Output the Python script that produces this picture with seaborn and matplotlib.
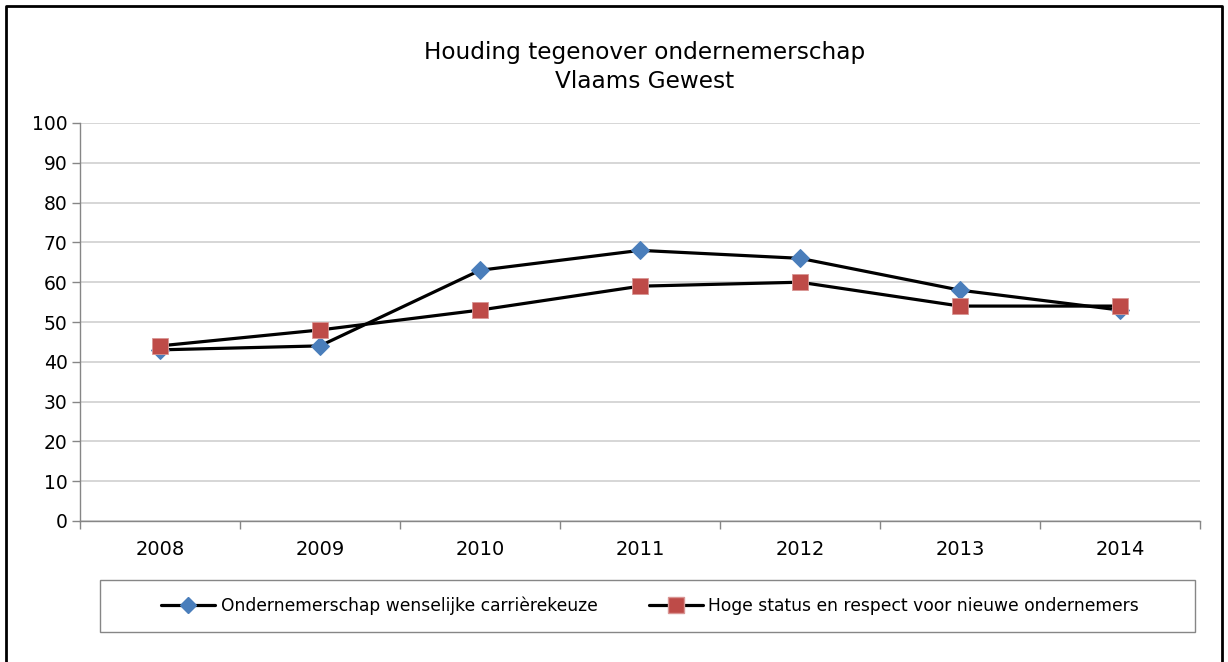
import pandas as pd
import matplotlib.pyplot as plt
import seaborn as sns
from matplotlib.lines import Line2D
from matplotlib.patches import Rectangle

years = [2008, 2009, 2010, 2011, 2012, 2013, 2014]
carriere = [43, 44, 63, 68, 66, 58, 53]
status = [44, 48, 53, 59, 60, 54, 54]
label_carriere = "Ondernemerschap wenselijke carrièrekeuze"
label_status = "Hoge status en respect voor nieuwe ondernemers"

df = pd.DataFrame({"jaar": years, "carriere": carriere, "status": status})

sns.set_style("white")
plt.rcParams['font.family'] = ['DejaVu Sans']
plt.rcParams['text.color'] = 'black'
plt.rcParams['xtick.color'] = 'black'
plt.rcParams['ytick.color'] = 'black'

fig = plt.figure(figsize=(12.28, 6.62), dpi=100)
ax = fig.add_axes([80 / 1228, 1 - 521 / 662, 1120 / 1228, 398 / 662])

sns.lineplot(data=df, x="jaar", y="carriere", ax=ax, color="black", lw=2.3,
             marker="D", markersize=9.5, markerfacecolor="#4A7EBB",
             markeredgecolor="#4A7EBB", zorder=3)
sns.lineplot(data=df, x="jaar", y="status", ax=ax, color="black", lw=2.3,
             marker="s", markersize=11.5, markerfacecolor="#BE4B48",
             markeredgecolor="#D99694", markeredgewidth=0.6, zorder=4)

ax.set_xlim(years[0] - 0.5, years[-1] + 0.5)
ax.set_ylim(0, 100)
ax.set_yticks(range(0, 101, 10))
ax.set_xticks(years)
ax.set_xticks([y + 0.5 for y in [years[0] - 1] + years], minor=True)
ax.set_xticklabels([str(y) for y in years])
ax.tick_params(axis="x", which="major", bottom=True, length=0, labelsize=14,
               pad=14, labelcolor="black")
ax.tick_params(axis="x", which="minor", bottom=True, length=6, width=1,
               color="#868686", direction="out")
ax.tick_params(axis="y", left=True, length=6, width=1, color="#868686",
               direction="out", labelsize=13.5, pad=3, labelcolor="black")
ax.grid(axis="y", color="#D0D0D0", lw=1.2)
ax.set_axisbelow(True)
ax.set_xlabel("")
ax.set_ylabel("")
for s in ["top", "right"]:
    ax.spines[s].set_visible(False)
for s in ["left", "bottom"]:
    ax.spines[s].set_color("#868686")
    ax.spines[s].set_linewidth(1)

fig.text(645 / 1228, 1 - 52 / 662, "Houding tegenover ondernemerschap",
         ha="center", va="center", fontsize=16.7, color="black")
fig.text(645 / 1228, 1 - 82 / 662, "Vlaams Gewest",
         ha="center", va="center", fontsize=16.7, color="black")

handles = [
    Line2D([], [], color="black", lw=2.3, marker="D", markersize=8.5,
           markerfacecolor="#4A7EBB", markeredgecolor="#4A7EBB"),
    Line2D([], [], color="black", lw=2.3, marker="s", markersize=11,
           markerfacecolor="#BE4B48", markeredgecolor="#D99694"),
]
leg = fig.legend(handles, [label_carriere, label_status], ncol=2,
                 loc="center", bbox_to_anchor=(650 / 1228, 1 - 606 / 662),
                 fontsize=12.3, frameon=False, handlelength=3.2,
                 columnspacing=3.0, handletextpad=0.3)
for t in leg.get_texts():
    t.set_color("black")

# legend box
fig.add_artist(Rectangle((100 / 1228, 1 - 632 / 662), 1095 / 1228, 52 / 662,
                         transform=fig.transFigure, fill=False,
                         edgecolor="#868686", lw=1))

# figure border (left, top, right)
fig.add_artist(Line2D([6 / 1228, 6 / 1228, 1222 / 1228, 1222 / 1228],
                      [0, 1 - 6 / 662, 1 - 6 / 662, 0],
                      transform=fig.transFigure, color="black", lw=2))

fig.savefig("out.png", dpi=100)
